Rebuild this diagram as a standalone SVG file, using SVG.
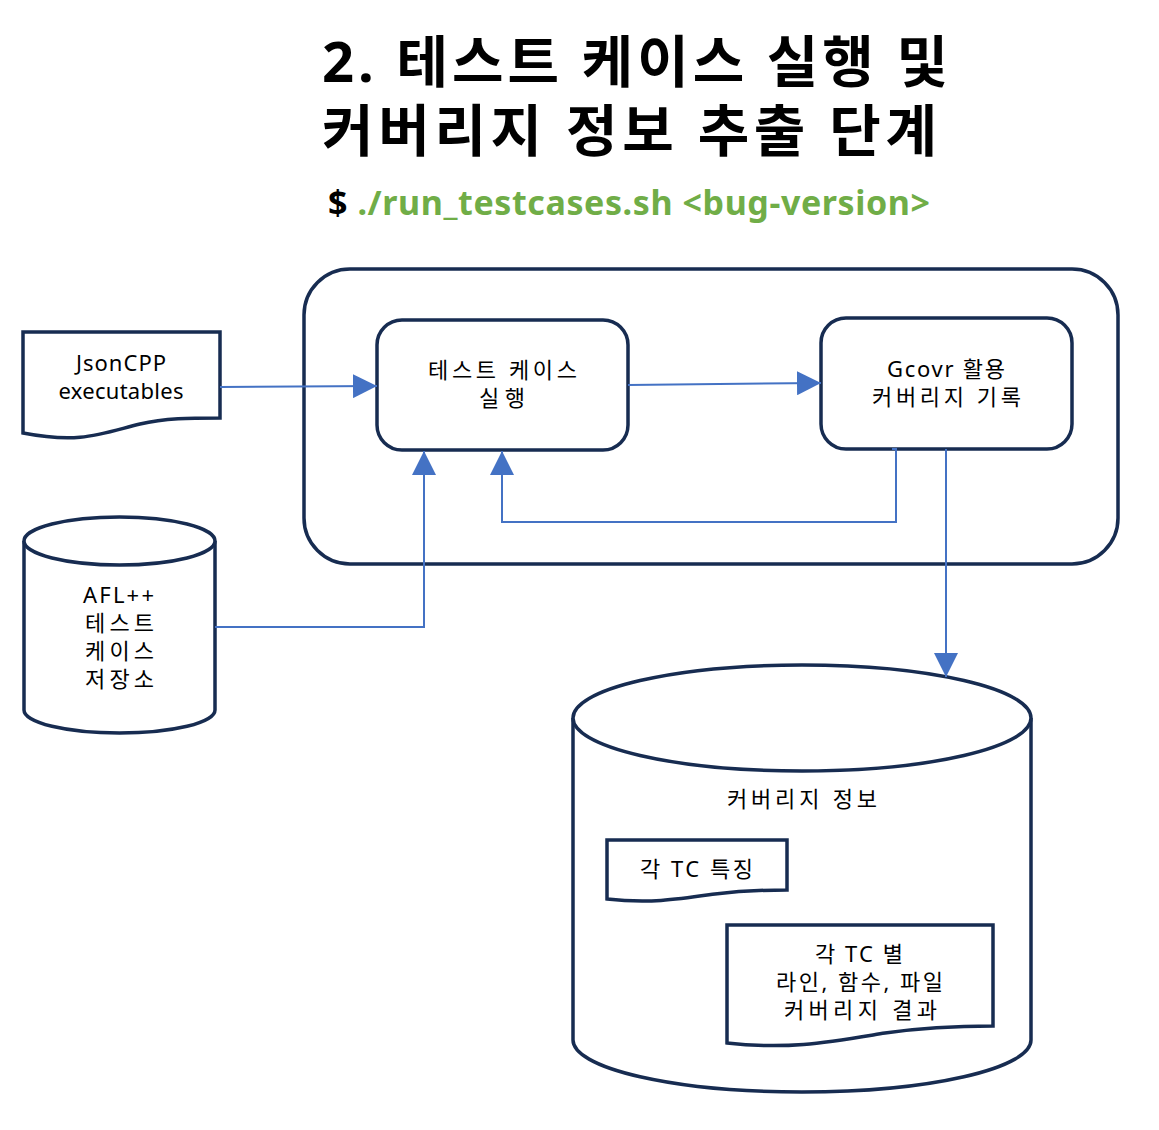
<svg xmlns="http://www.w3.org/2000/svg" width="1159" height="1130" viewBox="0 0 1159 1130">
<defs>
<style>
.s{fill:#fff;stroke:#172c51;stroke-width:3.5}
.c{fill:none;stroke:#4472c4;stroke-width:2}
.t{font-family:"Noto Sans","Noto Sans CJK KR",sans-serif;font-size:22px;fill:#000;text-anchor:middle}
.h{font-family:"Noto Sans","Noto Sans CJK KR",sans-serif;font-size:56px;font-weight:bold;fill:#000}
.sub{font-family:"Noto Sans","Noto Sans CJK KR",sans-serif;font-size:34px;font-weight:bold}
</style>
<marker id="ah" viewBox="0 0 24 24" markerWidth="24" markerHeight="24" refX="24" refY="12" orient="auto" markerUnits="userSpaceOnUse">
<path d="M0,0 L24,12 L0,24 Z" fill="#4472c4"/>
</marker>
</defs>
<rect width="1159" height="1130" fill="#fff"/>
<g id="title">
<text class="h" x="322" y="82" textLength="626" lengthAdjust="spacing">2. 테스트 케이스 실행 및</text>
<text class="h" x="322" y="151" textLength="615" lengthAdjust="spacing">커버리지 정보 추출 단계</text>
<text class="sub" x="328" y="215" textLength="602" lengthAdjust="spacing"><tspan fill="#000">$ </tspan><tspan fill="#70ad47">./run_testcases.sh &lt;bug-version&gt;</tspan></text>
</g>
<g id="container">
<rect class="s" x="304" y="269" width="814" height="295" rx="46"/>
</g>
<g id="jsoncpp">
<path class="s" d="M23,332 H220 V418 C190,418 165,418 140,424 C100,434 80,444 23,433 Z"/>
<text class="t" x="121" y="371" textLength="90" lengthAdjust="spacing">JsonCPP</text>
<text class="t" x="121" y="399" textLength="125" lengthAdjust="spacing">executables</text>
</g>
<g id="run">
<rect class="s" x="377" y="320" width="251" height="130" rx="25"/>
<text class="t" x="502.5" y="378" textLength="149" lengthAdjust="spacing">테스트 케이스</text>
<text class="t" x="502" y="406" textLength="46" lengthAdjust="spacing">실행</text>
</g>
<g id="gcovr">
<rect class="s" x="821" y="318" width="251" height="131" rx="25"/>
<text class="t" x="946" y="377" textLength="118" lengthAdjust="spacing">Gcovr 활용</text>
<text class="t" x="946.5" y="405" textLength="149" lengthAdjust="spacing">커버리지 기록</text>
</g>
<g id="afl">
<path class="s" d="M24,541 V710 A95.5,23 0 0 0 215,710 V541"/>
<ellipse class="s" cx="119.5" cy="541" rx="95.5" ry="24"/>
<text class="t" x="118.5" y="603" textLength="71" lengthAdjust="spacing">AFL++</text>
<text class="t" x="119.5" y="631" textLength="69" lengthAdjust="spacing">테스트</text>
<text class="t" x="119.5" y="659" textLength="69" lengthAdjust="spacing">케이스</text>
<text class="t" x="119.5" y="687" textLength="69" lengthAdjust="spacing">저장소</text>
</g>
<g id="coverage">
<path class="s" d="M573,718 V1040 A229,52 0 0 0 1031,1040 V718"/>
<ellipse class="s" cx="802" cy="718" rx="229" ry="53"/>
<text class="t" x="802" y="807" textLength="150" lengthAdjust="spacing">커버리지 정보</text>
</g>
<g id="tc-feature">
<path class="s" d="M607,840 H787 V890 C760,890 740,891 715,894 C680,899 650,904 607,899 Z"/>
<text class="t" x="696.5" y="877" textLength="113" lengthAdjust="spacing">각 TC 특징</text>
</g>
<g id="tc-result">
<path class="s" d="M727,925 H993 V1026 C950,1026 920,1028 885,1033 C830,1042 790,1050 727,1043 Z"/>
<text class="t" x="859" y="962" textLength="88" lengthAdjust="spacing">각 TC 별</text>
<text class="t" x="859.5" y="990" textLength="167" lengthAdjust="spacing">라인, 함수, 파일</text>
<text class="t" x="860.5" y="1018" textLength="153" lengthAdjust="spacing">커버리지 결과</text>
</g>
<g id="connectors">
<path class="c" d="M220,387 L377,386" marker-end="url(#ah)"/>
<path class="c" d="M628,385 L821,383" marker-end="url(#ah)"/>
<path class="c" d="M215,627 H424 V451" marker-end="url(#ah)"/>
<path class="c" d="M892,449 H896 V522 H502 V451" marker-end="url(#ah)"/>
<path class="c" d="M946,449 V677" marker-end="url(#ah)"/>
</g>
</svg>
